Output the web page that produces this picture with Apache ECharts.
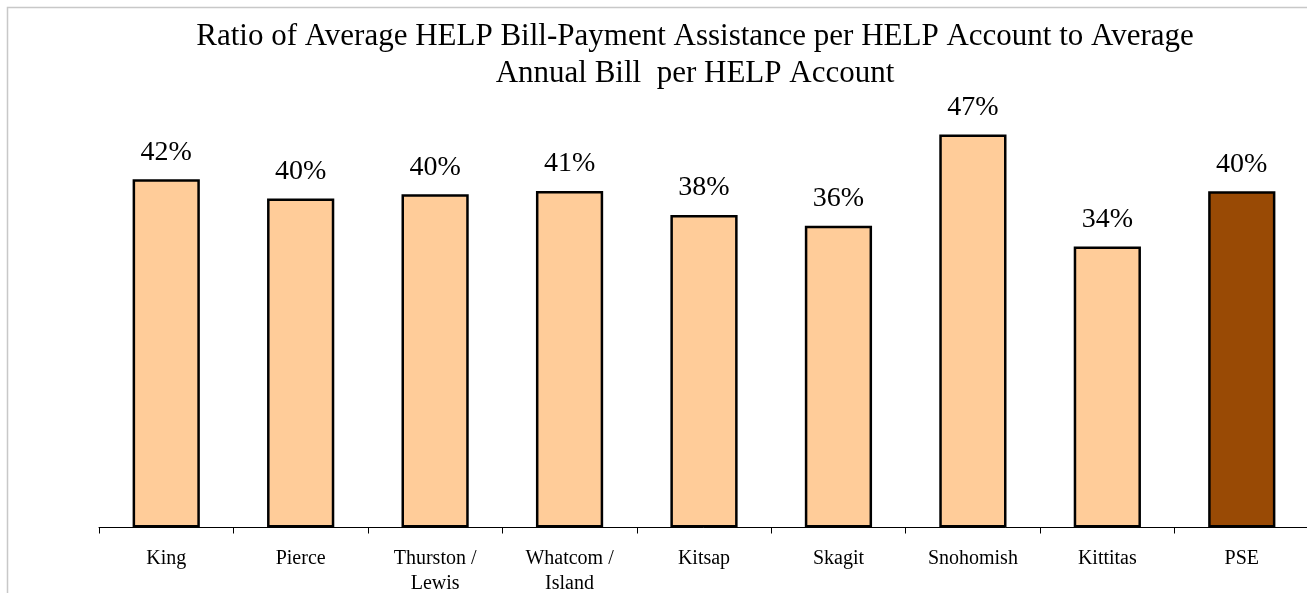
<!DOCTYPE html>
<html>
<head>
<meta charset="utf-8">
<script src="https://cdn.jsdelivr.net/npm/echarts@6/dist/echarts.min.js"></script>
<style>
html,body{margin:0;padding:0;background:#fff;}
#chart{width:1307px;height:593px;}
</style>
</head>
<body>
<div id="chart"></div>
<script>
const categories = ['King', 'Pierce', 'Thurston /\nLewis', 'Whatcom /\nIsland', 'Kitsap', 'Skagit', 'Snohomish', 'Kittitas', 'PSE'];
const ratios = [41.9, 39.6, 40.1, 40.5, 37.6, 36.3, 47.3, 33.8, 40.45];
const highlighted = [false, false, false, false, false, false, false, false, true];
const titleLines = ['Ratio of Average HELP Bill-Payment Assistance per HELP Account to Average', 'Annual Bill  per HELP Account'];

const chart = echarts.init(document.getElementById('chart'));
const serif = '"Liberation Serif", "Times New Roman", serif';
chart.setOption({
  animation: false,
  backgroundColor: '#fff',
  title: {
    text: titleLines.join('\n'),
    left: 690,
    textAlign: 'center',
    top: 13,
    textStyle: { fontFamily: serif, fontSize: 31, fontWeight: 'normal', color: '#000', lineHeight: 37 }
  },
  graphic: [{
    type: 'rect', left: 5, top: 5, shape: { width: 1320, height: 600 },
    style: { fill: 'none', stroke: '#c8c8c8', lineWidth: 1.5 }, silent: true, z: -1
  }],
  grid: { left: 99, top: 112, width: 1210, height: 415.5, outerBoundsMode: 'none', containLabel: false },
  xAxis: {
    type: 'category',
    data: categories,
    axisLine: { lineStyle: { color: '#000', width: 1 } },
    axisTick: { show: true, length: 6, lineStyle: { color: '#000' } },
    axisLabel: { fontFamily: serif, fontSize: 20, color: '#000', margin: 19, lineHeight: 25, interval: 0 }
  },
  yAxis: { type: 'value', min: 0, max: 50, show: false, splitLine: { show: false } },
  series: [{
    type: 'bar',
    barWidth: '50%',
    data: ratios.map((v, i) => ({
      value: v,
      itemStyle: { color: highlighted[i] ? '#994A05' : '#FFCC99', borderColor: '#000', borderWidth: 2.5 }
    })),
    label: {
      show: true, position: 'top', distance: 13,
      fontFamily: serif, fontSize: 28, color: '#000',
      formatter: p => Math.round(p.value) + '%'
    }
  }]
});
</script>
</body>
</html>
